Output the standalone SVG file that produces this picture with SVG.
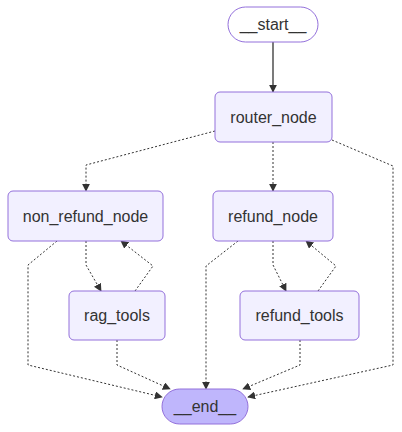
<svg xmlns="http://www.w3.org/2000/svg" width="402" height="432" viewBox="0 0 402 432">
<style>
.n rect{fill:#f2f0ff;stroke:#9370db;stroke-width:1}
.t{font-family:"Liberation Sans",Arial,sans-serif;font-size:16px;fill:#333;text-anchor:middle;dominant-baseline:central}
.e{fill:none;stroke:#333;stroke-width:1;stroke-dasharray:2 2}
.s{fill:none;stroke:#333;stroke-width:1.3}
</style>
<defs>
<marker id="a" viewBox="0 0 10 10" refX="9" refY="5" markerWidth="8" markerHeight="8" orient="auto" markerUnits="userSpaceOnUse">
<path d="M0,0 L10,5 L0,10 z" fill="#333"/>
</marker>
</defs>
<rect width="402" height="432" fill="#fff"/>
<g id="edges">
<path class="s" d="M273,42 L273,92" marker-end="url(#a)"/>
<path class="e" d="M215,131 L86,165 L86,191" marker-end="url(#a)"/>
<path class="e" d="M273,142 L273,191" marker-end="url(#a)"/>
<path class="e" d="M332,140 L393,166 L393,365 L248,397" marker-end="url(#a)"/>
<path class="e" d="M86,241 L86,265 L101,291" marker-end="url(#a)"/>
<path class="e" d="M135,291 L153,266 L121,241" marker-end="url(#a)"/>
<path class="e" d="M57,241 L28,265 L28,365 L162,397" marker-end="url(#a)"/>
<path class="e" d="M117,340 L117,365 L170,389" marker-end="url(#a)"/>
<path class="e" d="M273,241 L273,265 L286,291" marker-end="url(#a)"/>
<path class="e" d="M318,291 L336,266 L306,241" marker-end="url(#a)"/>
<path class="e" d="M238,241 L206,266 L206,389" marker-end="url(#a)"/>
<path class="e" d="M300,340 L300,365 L243,389" marker-end="url(#a)"/>
</g>
<g id="start" class="n"><rect x="228" y="7" width="90" height="35" rx="17.5" style="fill:#fff"/><text class="t" x="273" y="24.5">__start__</text></g>
<g id="router_node" class="n"><rect x="215" y="92" width="117" height="50" rx="5"/><text class="t" x="273.5" y="117">router_node</text></g>
<g id="non_refund_node" class="n"><rect x="8" y="191" width="155" height="50" rx="5"/><text class="t" x="85.5" y="216">non_refund_node</text></g>
<g id="refund_node" class="n"><rect x="213" y="191" width="120" height="50" rx="5"/><text class="t" x="273" y="216">refund_node</text></g>
<g id="rag_tools" class="n"><rect x="69" y="291" width="96" height="49" rx="5"/><text class="t" x="117" y="315.5">rag_tools</text></g>
<g id="refund_tools" class="n"><rect x="240" y="291" width="119" height="49" rx="5"/><text class="t" x="299.5" y="315.5">refund_tools</text></g>
<g id="end" class="n"><rect x="162" y="389" width="86" height="35" rx="17.5" style="fill:#bfb6fc"/><text class="t" x="205" y="406.5">__end__</text></g>
</svg>
